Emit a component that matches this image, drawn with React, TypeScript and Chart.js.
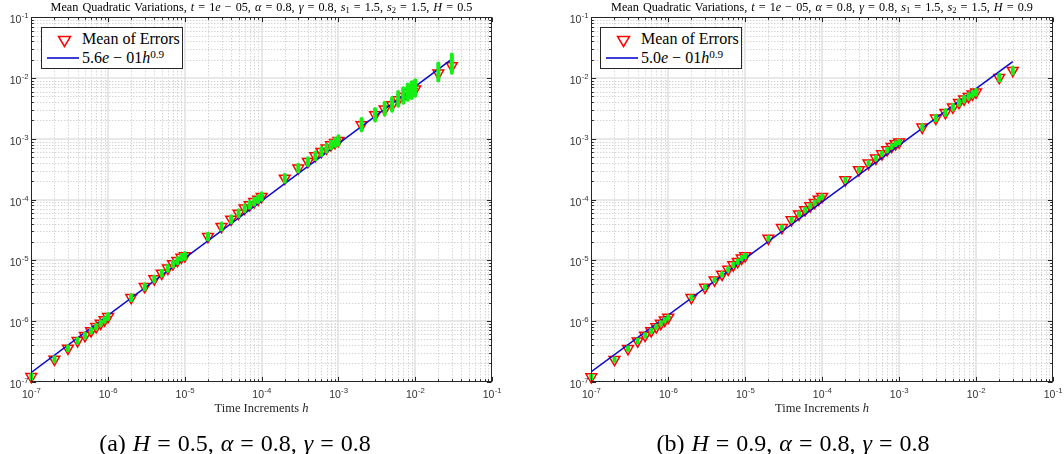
import React, { useEffect, useRef } from 'react';
import { Chart, registerables } from 'chart.js';

Chart.register(...registerables);

// ---------- data ----------
const hValues = [
  1e-7, 2e-7, 3e-7, 4e-7, 5e-7, 6e-7, 7e-7, 8e-7, 9e-7,
  1e-6, 2e-6, 3e-6, 4e-6, 5e-6, 6e-6, 7e-6, 8e-6, 9e-6,
  1e-5, 2e-5, 3e-5, 4e-5, 5e-5, 6e-5, 7e-5, 8e-5, 9e-5,
  1e-4, 2e-4, 3e-4, 4e-4, 5e-4, 6e-4, 7e-4, 8e-4, 9e-4,
  1e-3, 2e-3, 3e-3, 4e-3, 5e-3, 6e-3, 7e-3, 8e-3, 9e-3,
  1e-2, 2e-2, 3e-2,
];

// Panel (a): H = 0.5
const meanA = [
  1.21e-7, 2.34e-7, 3.55e-7, 4.73e-7, 5.73e-7, 6.9e-7, 8.05e-7, 9.16e-7, 1.04e-6,
  1.18e-6, 2.42e-6, 3.67e-6, 4.92e-6, 6.1e-6, 7.4e-6, 8.7e-6, 9.85e-6, 1.12e-5,
  1.18e-5, 2.45e-5, 3.58e-5, 4.73e-5, 5.94e-5, 7.19e-5, 8.15e-5, 9.2e-5, 1.01e-4,
  1.12e-4, 2.24e-4, 3.28e-4, 4.21e-4, 5.22e-4, 6.15e-4, 7.0e-4, 7.94e-4, 8.66e-4,
  9.34e-4, 1.69e-3, 2.47e-3, 3.07e-3, 3.62e-3, 4.38e-3, 4.96e-3, 5.63e-3, 6.0e-3,
  6.56e-3, 1.2e-2, 1.59e-2,
];
const sampleLoA = [
  1.12e-7, 2.17e-7, 3.29e-7, 4.38e-7, 5.31e-7, 6.39e-7, 7.46e-7, 8.49e-7, 9.6e-7,
  1.08e-6, 2.2e-6, 3.34e-6, 4.48e-6, 5.55e-6, 6.73e-6, 7.92e-6, 8.96e-6, 1.02e-5,
  1.06e-5, 2.19e-5, 3.2e-5, 4.22e-5, 5.3e-5, 6.42e-5, 7.28e-5, 8.2e-5, 9.0e-5,
  9.9e-5, 1.96e-4, 2.88e-4, 3.69e-4, 4.58e-4, 5.39e-4, 6.14e-4, 6.96e-4, 7.6e-4,
  8.05e-4, 1.38e-3, 2.0e-3, 2.5e-3, 2.9e-3, 3.5e-3, 3.9e-3, 4.4e-3, 4.7e-3,
  5.1e-3, 9.1e-3, 1.22e-2,
];
const sampleHiA = [
  1.31e-7, 2.53e-7, 3.84e-7, 5.11e-7, 6.19e-7, 7.46e-7, 8.7e-7, 9.9e-7, 1.12e-6,
  1.3e-6, 2.66e-6, 4.03e-6, 5.41e-6, 6.7e-6, 8.13e-6, 9.56e-6, 1.08e-5, 1.23e-5,
  1.32e-5, 2.74e-5, 4.01e-5, 5.3e-5, 6.65e-5, 8.05e-5, 9.13e-5, 1.03e-4, 1.13e-4,
  1.27e-4, 2.55e-4, 3.74e-4, 4.8e-4, 5.95e-4, 7.01e-4, 7.98e-4, 9.05e-4, 9.9e-4,
  1.1e-3, 2.12e-3, 3.1e-3, 3.9e-3, 4.7e-3, 5.9e-3, 6.8e-3, 7.8e-3, 8.5e-3,
  9.2e-3, 1.73e-2, 2.43e-2,
];
const fitXA = [1e-7, 3e-2];
const fitYA = [1.42e-7, 2.04e-2];

// Panel (b): H = 0.9
const meanB = [
  1.2e-7, 2.32e-7, 3.5e-7, 4.68e-7, 5.8e-7, 6.9e-7, 8.0e-7, 9.1e-7, 1.03e-6,
  1.15e-6, 2.42e-6, 3.59e-6, 4.73e-6, 5.87e-6, 7.1e-6, 8.37e-6, 9.5e-6, 1.08e-5,
  1.18e-5, 2.3e-5, 3.44e-5, 4.61e-5, 5.73e-5, 6.75e-5, 7.85e-5, 8.9e-5, 1.01e-4,
  1.12e-4, 2.1e-4, 3.08e-4, 3.96e-4, 4.79e-4, 5.64e-4, 6.56e-4, 7.45e-4, 8.25e-4,
  8.8e-4, 1.55e-3, 2.18e-3, 2.7e-3, 3.32e-3, 3.95e-3, 4.49e-3, 4.96e-3, 5.43e-3,
  5.86e-3, 1.02e-2, 1.33e-2,
];
const sampleLoB = [
  1.14e-7, 2.2e-7, 3.32e-7, 4.44e-7, 5.5e-7, 6.55e-7, 7.6e-7, 8.64e-7, 9.78e-7,
  1.09e-6, 2.3e-6, 3.41e-6, 4.49e-6, 5.57e-6, 6.74e-6, 7.95e-6, 9.02e-6, 1.03e-5,
  1.12e-5, 2.18e-5, 3.27e-5, 4.38e-5, 5.44e-5, 6.41e-5, 7.45e-5, 8.45e-5, 9.6e-5,
  1.06e-4, 1.98e-4, 2.91e-4, 3.74e-4, 4.52e-4, 5.33e-4, 6.2e-4, 7.04e-4, 7.8e-4,
  8.32e-4, 1.42e-3, 2.0e-3, 2.47e-3, 3.04e-3, 3.61e-3, 4.11e-3, 4.54e-3, 4.97e-3,
  5.36e-3, 9.1e-3, 1.19e-2,
];
const sampleHiB = [
  1.26e-7, 2.44e-7, 3.68e-7, 4.93e-7, 6.1e-7, 7.26e-7, 8.42e-7, 9.58e-7, 1.08e-6,
  1.21e-6, 2.55e-6, 3.78e-6, 4.98e-6, 6.18e-6, 7.47e-6, 8.81e-6, 1.0e-5, 1.14e-5,
  1.24e-5, 2.42e-5, 3.62e-5, 4.85e-5, 6.03e-5, 7.1e-5, 8.26e-5, 9.37e-5, 1.06e-4,
  1.18e-4, 2.22e-4, 3.26e-4, 4.19e-4, 5.07e-4, 5.97e-4, 6.94e-4, 7.88e-4, 8.73e-4,
  9.31e-4, 1.69e-3, 2.38e-3, 2.95e-3, 3.63e-3, 4.32e-3, 4.91e-3, 5.42e-3, 5.94e-3,
  6.41e-3, 1.14e-2, 1.49e-2,
];
const fitXB = [1e-7, 3e-2];
const fitYB = [1.46e-7, 1.87e-2];

// axis ticks
const majorTicks = [1e-7, 1e-6, 1e-5, 1e-4, 1e-3, 1e-2, 1e-1];
const majorExponents = ['-7', '-6', '-5', '-4', '-3', '-2', '-1'];
const minorMantissas = [2, 3, 4, 5, 6, 7, 8, 9];

// ---------- styles ----------
const RED = '#ff0000';
const BLUE = '#0b0bd0';
const GREEN = '#14f014';
const AXIS = '#262626';
const SERIF = '"Liberation Serif", "Times New Roman", serif';
const SANS = '"Liberation Sans", Arial, Helvetica, sans-serif';

const framePlugin = {
  id: 'matlabFrame',
  beforeDatasetsDraw(chart: any) {
    const { ctx, chartArea: a } = chart;
    const xs = chart.scales.x;
    const ys = chart.scales.y;
    ctx.save();
    // minor grid (dotted)
    ctx.lineWidth = 1;
    ctx.strokeStyle = '#c2c2c2';
    ctx.setLineDash([1, 2]);
    for (let k = 0; k < majorTicks.length - 1; k++) {
      for (const m of minorMantissas) {
        const v = majorTicks[k] * m;
        const px = Math.round(xs.getPixelForValue(v)) + 0.5;
        ctx.beginPath(); ctx.moveTo(px, a.top); ctx.lineTo(px, a.bottom); ctx.stroke();
        const py = Math.round(ys.getPixelForValue(v)) + 0.5;
        ctx.beginPath(); ctx.moveTo(a.left, py); ctx.lineTo(a.right, py); ctx.stroke();
      }
    }
    // major grid (solid)
    ctx.setLineDash([]);
    ctx.strokeStyle = '#e0e0e0';
    ctx.lineWidth = 1.5;
    for (let k = 1; k < majorTicks.length - 1; k++) {
      const px = Math.round(xs.getPixelForValue(majorTicks[k]));
      ctx.beginPath(); ctx.moveTo(px, a.top); ctx.lineTo(px, a.bottom); ctx.stroke();
      const py = Math.round(ys.getPixelForValue(majorTicks[k]));
      ctx.beginPath(); ctx.moveTo(a.left, py); ctx.lineTo(a.right, py); ctx.stroke();
    }
    ctx.restore();
  },
  afterDatasetsDraw(chart: any) {
    const { ctx, chartArea: a } = chart;
    const xs = chart.scales.x;
    const ys = chart.scales.y;
    ctx.save();
    ctx.strokeStyle = AXIS;
    ctx.lineWidth = 1;
    const L = Math.round(a.left) + 0.5;
    const R = Math.round(a.right) - 0.5;
    const T = Math.round(a.top) + 0.5;
    const B = Math.round(a.bottom) - 0.5;
    ctx.strokeRect(L, T, R - L, B - T);
    const tick = (v: number, len: number) => {
      const px = Math.round(xs.getPixelForValue(v)) + 0.5;
      ctx.beginPath();
      ctx.moveTo(px, B); ctx.lineTo(px, B - len);
      ctx.moveTo(px, T); ctx.lineTo(px, T + len);
      ctx.stroke();
      const py = Math.round(ys.getPixelForValue(v)) + 0.5;
      ctx.beginPath();
      ctx.moveTo(L, py); ctx.lineTo(L + len, py);
      ctx.moveTo(R, py); ctx.lineTo(R - len, py);
      ctx.stroke();
    };
    for (let k = 0; k < majorTicks.length; k++) {
      tick(majorTicks[k], 4.6);
      if (k < majorTicks.length - 1) for (const m of minorMantissas) tick(majorTicks[k] * m, 2.3);
    }
    // tick labels 10^e
    const baseFont = `10.5px ${SANS}`;
    const supFont = `7.8px ${SANS}`;
    ctx.fillStyle = '#333333';
    ctx.textBaseline = 'alphabetic';
    ctx.textAlign = 'left';
    const drawPow = (exp: string, x: number, y: number, align: string) => {
      ctx.font = baseFont;
      const w1 = ctx.measureText('10').width;
      ctx.font = supFont;
      const w2 = ctx.measureText(exp).width;
      const total = w1 + w2;
      const x0 = align === 'center' ? x - total / 2 : x - total;
      ctx.font = baseFont;
      ctx.fillText('10', x0, y);
      ctx.font = supFont;
      ctx.fillText(exp, x0 + w1 + 0.3, y - 5);
    };
    for (let k = 0; k < majorTicks.length; k++) {
      const px = xs.getPixelForValue(majorTicks[k]);
      drawPow(majorExponents[k], px, a.bottom + 16, 'center');
      const py = ys.getPixelForValue(majorTicks[k]);
      drawPow(majorExponents[k], a.left - 3, py + 6, 'right');
    }
    ctx.restore();
  },
};

type PanelProps = {
  left: number;
  width: number;
  pad: { left: number; right: number; top: number; bottom: number };
  mean: number[];
  lo: number[];
  hi: number[];
  fitX: number[];
  fitY: number[];
};

function Panel({ left, width, pad, mean, lo, hi, fitX, fitY }: PanelProps) {
  const ref = useRef<HTMLCanvasElement>(null);
  useEffect(() => {
    if (!ref.current) return;
    const samples: any[] = [];
    hValues.forEach((h, i) => {
      samples.push({ x: h, y: lo[i] }, { x: h, y: hi[i] }, { x: h, y: null });
    });
    const chart = new Chart(ref.current, {
      type: 'scatter',
      data: {
        datasets: [
          {
            label: 'samples',
            data: samples,
            showLine: true,
            spanGaps: false,
            borderColor: GREEN,
            borderWidth: 4,
            borderCapStyle: 'round',
            pointRadius: 0,
            order: 0,
            clip: false,
          } as any,
          {
            label: 'fit',
            data: fitX.map((x, i) => ({ x, y: fitY[i] })),
            showLine: true,
            borderColor: BLUE,
            borderWidth: 1.6,
            pointRadius: 0,
            order: 1,
          } as any,
          {
            label: 'Mean of Errors',
            data: hValues.map((x, i) => ({ x, y: mean[i] })),
            pointStyle: 'triangle',
            rotation: 180,
            pointRadius: 6.2,
            borderColor: RED,
            borderWidth: 1.5,
            backgroundColor: 'rgba(0,0,0,0)',
            order: 2,
            clip: false,
          } as any,
        ],
      },
      options: {
        animation: false,
        responsive: false,
        devicePixelRatio: 1,
        events: [],
        layout: { padding: pad },
        plugins: { legend: { display: false }, tooltip: { enabled: false } },
        scales: {
          x: { type: 'logarithmic', min: 1e-7, max: 1e-1, display: false },
          y: { type: 'logarithmic', min: 1e-7, max: 1e-1, display: false },
        },
      },
      plugins: [framePlugin],
    });
    return () => chart.destroy();
  }, []);
  return (
    <canvas
      ref={ref}
      width={width}
      height={454}
      style={{ position: 'absolute', left, top: 0, width, height: 454 }}
    />
  );
}

const supStyle: React.CSSProperties = { fontSize: '0.7em', verticalAlign: '0.45em', lineHeight: 0 };
const subStyle: React.CSSProperties = { fontSize: '0.7em', verticalAlign: '-0.25em', lineHeight: 0 };

function Title({ left, width, hLabel }: { left: number; width: number; hLabel: string }) {
  return (
    <div
      style={{
        position: 'absolute', left, width, top: 0, textAlign: 'center',
        font: `12.2px ${SERIF}`, lineHeight: '14px', whiteSpace: 'nowrap', color: '#000',
        wordSpacing: '1px',
      }}
    >
      Mean Quadratic Variations, <i>t</i> = 1<i>e</i> − 05, <i>α</i> = 0.8, <i>γ</i> = 0.8,{' '}
      <i>s</i><span style={subStyle}>1</span> = 1.5, <i>s</i><span style={subStyle}>2</span> = 1.5, <i>H</i> = {hLabel}
    </div>
  );
}

function XLabel({ left, width }: { left: number; width: number }) {
  return (
    <div
      style={{
        position: 'absolute', left, width, top: 401, textAlign: 'center',
        font: `12.5px ${SERIF}`, lineHeight: '15px', whiteSpace: 'nowrap', color: '#262626',
      }}
    >
      Time Increments <i>h</i>
    </div>
  );
}

function Caption({ center, tag, hLabel }: { center: number; tag: string; hLabel: string }) {
  return (
    <div
      style={{
        position: 'absolute', left: center - 200, width: 400, top: 429, textAlign: 'center',
        font: `24px ${SERIF}`, lineHeight: '28px', whiteSpace: 'nowrap', color: '#000',
        wordSpacing: '1px',
      }}
    >
      ({tag}) <i>H</i> = {hLabel}, <i>α</i> = 0.8, <i>γ</i> = 0.8
    </div>
  );
}

function Legend({ left, top, coef }: { left: number; top: number; coef: string }) {
  return (
    <div
      style={{
        position: 'absolute', left, top, width: 142, height: 42, boxSizing: 'border-box',
        border: `1px solid ${AXIS}`, background: '#fff',
      }}
    >
      <svg width={140} height={40} style={{ position: 'absolute', left: 0, top: 0 }}>
        <polygon points="16.5,8.5 28.5,8.5 22.5,18.5" fill="none" stroke={RED} strokeWidth={1.5} />
        <line x1={5} y1={30} x2={37} y2={30} stroke={BLUE} strokeWidth={1.6} />
      </svg>
      <div style={{ position: 'absolute', left: 40, top: 1, font: `16px ${SERIF}`, lineHeight: '20px', whiteSpace: 'nowrap' }}>
        Mean of Errors
      </div>
      <div style={{ position: 'absolute', left: 40, top: 20, font: `16px ${SERIF}`, lineHeight: '20px', whiteSpace: 'nowrap' }}>
        {coef}<i>e</i> − 01<i>h</i><span style={supStyle}>0.9</span>
      </div>
    </div>
  );
}

export default function App() {
  return (
    <div style={{ position: 'fixed', left: 0, top: 0, width: 1064, height: 454, background: '#fff', overflow: 'hidden' }}>
      <Panel
        left={0}
        width={530}
        pad={{ left: 31.3, right: 38, top: 17.3, bottom: 72.3 }}
        mean={meanA}
        lo={sampleLoA}
        hi={sampleHiA}
        fitX={fitXA}
        fitY={fitYA}
      />
      <Panel
        left={530}
        width={534}
        pad={{ left: 61.3, right: 11, top: 17.3, bottom: 72.3 }}
        mean={meanB}
        lo={sampleLoB}
        hi={sampleHiB}
        fitX={fitXB}
        fitY={fitYB}
      />
      <Title left={31} width={461} hLabel="0.5" />
      <Title left={591} width={462} hLabel="0.9" />
      <XLabel left={31} width={461} />
      <XLabel left={591} width={462} />
      <Legend left={41} top={27} coef="5.6" />
      <Legend left={600} top={27} coef="5.0" />
      <Caption center={235} tag="a" hLabel="0.5" />
      <Caption center={793} tag="b" hLabel="0.9" />
    </div>
  );
}
